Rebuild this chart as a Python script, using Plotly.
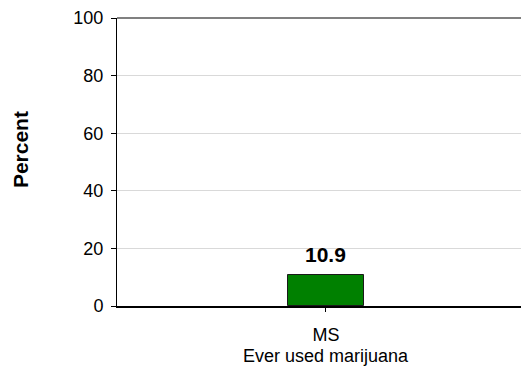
import plotly.graph_objects as go

categories = ["MS"]
values = [10.9]
value_labels = ["10.9"]
y_ticks = [0, 20, 40, 60, 80, 100]

# page body has an 8px margin; figure sized to fill the 529x377 window from there
OFF = 8
W, H = 529 - OFF, 377 - OFF
ml, mr, mt, mb = 117 - OFF, 0, 15 - OFF, 71
PW, PH = W - ml - mr, H - mt - mb

FONT = "Arial, Liberation Sans, sans-serif"

fig = go.Figure()
fig.add_trace(go.Bar(
    x=categories, y=values,
    width=0.182,
    marker=dict(color="#008000", line=dict(color="#1a1a1a", width=1)),
    cliponaxis=False,
))

# value labels above bars
for c, v, t in zip(categories, values, value_labels):
    fig.add_annotation(
        x=c, y=v, xref="x", yref="y", text=f"<b>{t}</b>",
        showarrow=False, yanchor="bottom", yshift=7,
        font=dict(family=FONT, size=21, color="black"),
    )

fig.update_layout(
    width=W, height=H,
    margin=dict(l=ml, r=mr, t=mt, b=mb),
    plot_bgcolor="white", paper_bgcolor="white",
    showlegend=False,
    font=dict(family=FONT, color="black"),
    xaxis=dict(
        range=[-0.5, 0.486],
        showline=True, linecolor="black", linewidth=2,
        ticks="outside", ticklen=4, tickcolor="black",
        tickfont=dict(size=18),
        ticklabelstandoff=7,
        showgrid=False, zeroline=False,
    ),
    yaxis=dict(
        range=[0, 100], tickvals=y_ticks,
        showline=True, linecolor="black", linewidth=1,
        ticks="outside", ticklen=5, tickcolor="black",
        tickfont=dict(size=18),
        ticklabelstandoff=4,
        ticklabeloverflow="allow",
        showgrid=True, gridcolor="#d9d9d9", gridwidth=1,
        zeroline=False,
    ),
    bargap=0,
)

# darker line along the top (100) of the plot area
fig.add_shape(type="line", xref="paper", yref="paper", x0=0, x1=1, y0=1, y1=1,
              line=dict(color="#808080", width=2))

# x-axis title
fig.add_annotation(
    text="Ever used marijuana",
    xref="paper", yref="paper",
    x=(326 - 117) / PW, y=-(357 - 306) / PH,
    showarrow=False, font=dict(size=18, color="black"),
    xanchor="center", yanchor="middle",
)

# y-axis title
fig.add_annotation(
    text="<b>Percent</b>", textangle=-90,
    xref="paper", yref="paper",
    x=(20 - 117) / PW, y=(306 - 148.5) / PH,
    showarrow=False, font=dict(size=21, color="black"),
    xanchor="center", yanchor="middle",
)

fig.write_html("out.html")
